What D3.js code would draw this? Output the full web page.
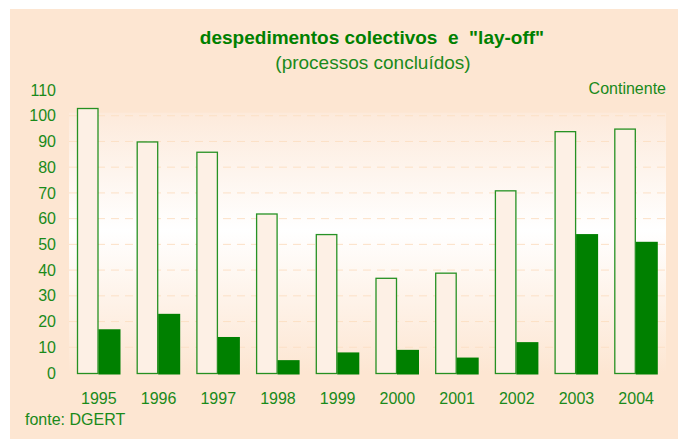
<!DOCTYPE html>
<html>
<head>
<meta charset="utf-8">
<script src="https://cdn.jsdelivr.net/npm/d3@7"></script>
<style>
  body { margin: 0; background: #fff; }
  svg { display: block; font-family: "Liberation Sans", Arial, sans-serif; }
</style>
</head>
<body>
<div id="chart"></div>
<script>
// DATA
const years = ["1995", "1996", "1997", "1998", "1999", "2000", "2001", "2002", "2003", "2004"];
const despedimentos = [103, 90, 86, 62, 54, 37, 39, 71, 94, 95];
const layoff = [17, 23, 14, 5, 8, 9, 6, 12, 54, 51];
const yTicks = [0, 10, 20, 30, 40, 50, 60, 70, 80, 90, 100, 110];

const settings = {
    width: 678,
    height: 439,
    left: 69,
    right: 666,
    top: 90,
    bottom: 373,
    green: "#008000",
    text: "#1a8a1a",
    panel: "#fde6d2",
};

const svg = d3.select("#chart").append("svg")
    .attr("width", settings.width)
    .attr("height", settings.height);

const defs = svg.append("defs");
const grad = defs.append("linearGradient")
    .attr("id", "plotbg")
    .attr("x1", 0).attr("y1", 0).attr("x2", 0).attr("y2", 1);
grad.append("stop").attr("offset", "0%").attr("stop-color", "#fdeadb");
grad.append("stop").attr("offset", "45%").attr("stop-color", "#ffffff");
grad.append("stop").attr("offset", "100%").attr("stop-color", "#fde6d2");

// panel background
svg.append("rect")
    .attr("x", 10).attr("y", 9)
    .attr("width", settings.width - 10).attr("height", settings.height - 9)
    .attr("fill", settings.panel);

const x = d3.scaleBand().domain(years).range([settings.left, settings.right]);
const xSub = d3.scaleBand().domain(["a", "b"]).range([8, 51]);
const y = d3.scaleLinear().domain([0, 110]).range([settings.bottom, settings.top]);

// plot area gradient
svg.append("rect")
    .attr("x", settings.left).attr("y", y(100) - 3)
    .attr("width", settings.right - settings.left)
    .attr("height", settings.bottom - y(100) + 3)
    .attr("fill", "url(#plotbg)");

// gridlines
svg.append("g")
    .selectAll("line")
    .data(yTicks.filter(d => d > 0 && d <= 100))
    .join("line")
    .attr("x1", settings.left).attr("x2", settings.right)
    .attr("y1", d => y(d)).attr("y2", d => y(d))
    .attr("stroke", "#fce0c6")
    .attr("stroke-width", 1)
    .attr("stroke-dasharray", "8,6");

// y axis labels
const yAxis = d3.axisLeft(y).tickValues(yTicks).tickSize(0).tickPadding(0);
svg.append("g")
    .attr("transform", "translate(56,0)")
    .call(yAxis)
    .call(g => g.select(".domain").remove())
    .call(g => g.selectAll("text")
        .attr("fill", settings.text)
        .style("font-size", "16px")
        .style("font-family", "Liberation Sans, Arial, sans-serif"));

// x axis labels
const xAxis = d3.axisBottom(x).tickSize(0).tickPadding(0);
svg.append("g")
    .attr("transform", "translate(0,393)")
    .call(xAxis)
    .call(g => g.select(".domain").remove())
    .call(g => g.selectAll("text")
        .attr("fill", settings.text)
        .style("font-size", "16px")
        .style("font-family", "Liberation Sans, Arial, sans-serif"));

// bars
const groups = svg.append("g")
    .selectAll("g")
    .data(years.map((yr, i) => ({ year: yr, a: despedimentos[i], b: layoff[i] })))
    .join("g")
    .attr("transform", d => `translate(${x(d.year)},0)`);

groups.append("rect")
    .attr("x", xSub("a") + 0.5)
    .attr("y", d => y(d.a) + 0.5)
    .attr("width", xSub.bandwidth() - 1)
    .attr("height", d => y(0) - y(d.a))
    .attr("fill", "#fdf0e5")
    .attr("stroke", settings.green)
    .attr("stroke-opacity", 0.85)
    .attr("stroke-width", 1.3);

groups.append("rect")
    .attr("x", xSub("b"))
    .attr("y", d => y(d.b))
    .attr("width", xSub.bandwidth() + 0.5)
    .attr("height", d => y(0) - y(d.b) + 1.5)
    .attr("fill", settings.green);

// titles
svg.append("text")
    .attr("x", 372).attr("y", 44)
    .attr("text-anchor", "middle")
    .attr("fill", settings.green)
    .style("font-size", "19px")
    .style("font-weight", "bold")
    .attr("xml:space", "preserve")
    .text('despedimentos colectivos  e  "lay-off"');

svg.append("text")
    .attr("x", 373).attr("y", 69)
    .attr("text-anchor", "middle")
    .attr("fill", settings.text)
    .style("font-size", "19px")
    .text("(processos concluídos)");

svg.append("text")
    .attr("x", 666).attr("y", 94)
    .attr("text-anchor", "end")
    .attr("fill", settings.text)
    .style("font-size", "16px")
    .text("Continente");

svg.append("text")
    .attr("x", 25).attr("y", 425)
    .attr("fill", settings.text)
    .style("font-size", "16px")
    .text("fonte: DGERT");
</script>
</body>
</html>
